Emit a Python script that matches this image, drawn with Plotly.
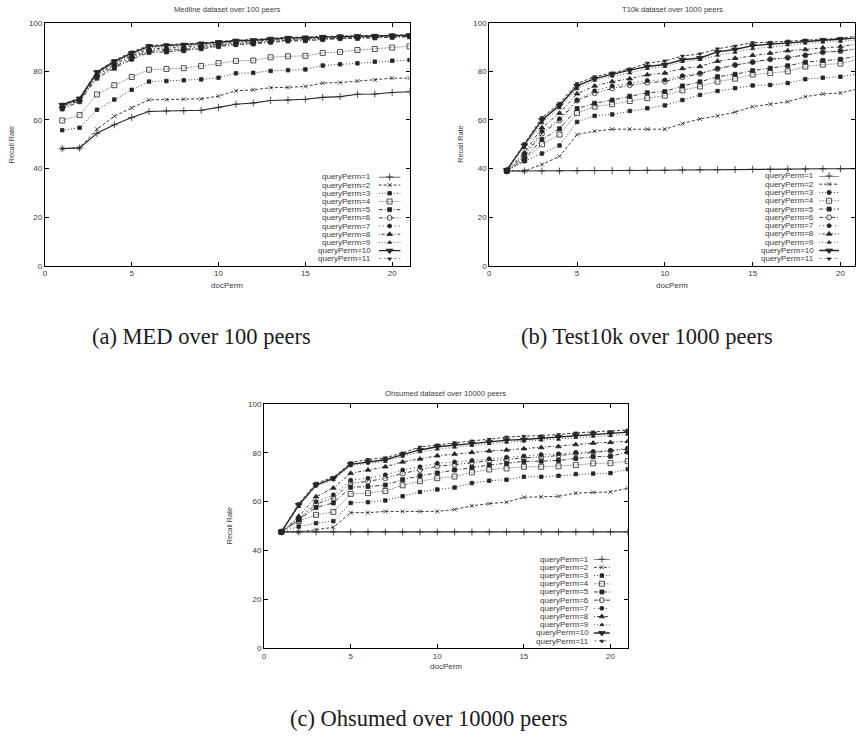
import plotly.graph_objects as go

# ---------------------------------------------------------------- data
DOC_PERM = list(range(1, 22))
QUERY_LABELS = [f"queryPerm={k}" for k in range(1, 12)]

PANEL_TITLES = ["Medline dataset over 100 peers",
                "T10k dataset over 1000 peers",
                "Ohsumed dataset over 10000 peers"]
CAPTIONS = ["(a) MED over 100 peers",
            "(b) Test10k over 1000 peers",
            "(c) Ohsumed over 10000 peers"]
X_TICKS = [0, 5, 10, 15, 20]
Y_TICKS = [0, 20, 40, 60, 80, 100]

# recall rate per queryPerm (rows) and docPerm = 1..21 (columns)
MED_RECALL = [
    [48.2, 48.5, 54.5, 58.0, 61.0, 63.5, 63.7, 63.8, 64.0, 65.2, 66.5, 67.0, 68.0, 68.2, 68.5, 69.3, 69.6, 70.6, 70.7, 71.3, 71.6],
    [48.2, 48.5, 56.2, 61.5, 65.0, 68.3, 68.4, 68.5, 68.7, 69.8, 72.0, 72.4, 73.3, 73.4, 73.8, 75.2, 75.4, 76.0, 76.5, 77.2, 77.2],
    [55.8, 56.8, 64.2, 68.4, 72.4, 75.8, 76.0, 76.3, 76.7, 77.4, 79.2, 79.4, 80.2, 80.5, 80.8, 82.4, 82.9, 83.3, 84.0, 84.4, 84.7],
    [59.8, 62.0, 70.5, 74.3, 77.7, 80.7, 81.0, 81.3, 82.2, 83.4, 84.3, 84.5, 85.8, 86.2, 86.4, 87.6, 88.0, 88.8, 89.2, 89.8, 90.3],
    [64.5, 67.5, 77.2, 81.3, 85.0, 87.8, 88.0, 88.5, 89.3, 90.2, 91.0, 91.3, 92.0, 92.5, 92.6, 93.1, 93.5, 93.6, 93.8, 94.0, 94.2],
    [65.0, 68.0, 78.0, 82.0, 85.7, 88.3, 88.6, 89.0, 89.8, 90.6, 91.4, 91.7, 92.3, 92.8, 93.0, 93.4, 93.8, 93.9, 94.1, 94.3, 94.5],
    [65.3, 68.2, 78.3, 82.6, 86.0, 88.8, 89.0, 89.4, 90.2, 91.0, 91.7, 92.0, 92.6, 93.1, 93.3, 93.6, 94.0, 94.1, 94.3, 94.5, 94.6],
    [65.7, 68.4, 78.8, 83.0, 86.5, 89.3, 89.5, 89.9, 90.6, 91.3, 92.0, 92.3, 92.9, 93.3, 93.5, 93.8, 94.1, 94.3, 94.4, 94.6, 94.7],
    [66.0, 68.6, 79.2, 83.5, 87.0, 89.8, 90.0, 90.4, 91.0, 91.6, 92.3, 92.6, 93.1, 93.5, 93.7, 94.0, 94.2, 94.4, 94.5, 94.7, 94.8],
    [66.2, 68.8, 79.6, 84.0, 87.5, 90.3, 90.6, 90.9, 91.4, 92.0, 92.6, 92.8, 93.4, 93.8, 93.9, 94.2, 94.4, 94.5, 94.6, 94.8, 94.9],
    [66.5, 69.0, 80.0, 84.5, 88.0, 90.7, 91.0, 91.2, 91.7, 92.3, 92.8, 93.0, 93.6, 94.0, 94.1, 94.4, 94.5, 94.6, 94.7, 94.9, 95.0],
]

T10K_RECALL = [
    [39.0, 39.0, 39.0, 39.0, 39.1, 39.2, 39.2, 39.3, 39.3, 39.3, 39.4, 39.5, 39.5, 39.6, 39.7, 39.7, 39.8, 39.8, 39.9, 39.9, 40.0],
    [39.0, 39.0, 41.7, 45.0, 54.0, 55.4, 56.2, 56.2, 56.2, 56.2, 58.5, 60.4, 61.7, 63.2, 65.5, 66.5, 67.5, 69.6, 70.7, 71.1, 72.8],
    [39.0, 43.0, 46.2, 49.5, 59.2, 61.7, 62.3, 63.7, 64.8, 66.0, 68.2, 70.3, 71.9, 73.1, 74.2, 74.4, 75.2, 76.8, 77.4, 77.8, 79.0],
    [39.0, 43.5, 50.0, 54.0, 62.8, 65.5, 66.5, 67.8, 69.0, 70.0, 72.2, 73.8, 75.8, 77.0, 78.7, 79.3, 80.0, 82.0, 82.8, 83.2, 84.8],
    [39.0, 44.0, 52.0, 56.4, 64.7, 66.9, 68.2, 69.8, 71.2, 71.7, 74.0, 75.7, 77.8, 78.8, 80.3, 81.3, 82.3, 83.8, 84.5, 85.0, 86.4],
    [39.0, 45.2, 54.4, 59.8, 68.0, 71.0, 73.0, 74.3, 75.4, 75.8, 77.6, 79.0, 81.0, 82.6, 83.8, 85.0, 85.7, 86.6, 87.8, 88.3, 89.3],
    [39.0, 45.8, 55.3, 60.5, 68.2, 72.0, 74.0, 75.2, 76.2, 76.5, 78.2, 79.3, 81.2, 82.6, 83.8, 84.9, 85.5, 86.6, 88.0, 88.5, 89.5],
    [39.5, 46.5, 56.8, 62.8, 70.8, 74.0, 75.8, 77.0, 78.6, 79.3, 81.2, 82.0, 84.2, 85.4, 86.6, 87.5, 88.5, 89.0, 89.7, 90.2, 91.3],
    [39.5, 48.5, 58.8, 65.0, 72.8, 76.3, 78.0, 79.3, 81.2, 82.0, 84.0, 84.8, 86.6, 87.8, 89.3, 90.0, 90.9, 91.6, 92.0, 92.3, 93.0],
    [39.5, 49.5, 60.0, 66.0, 74.0, 77.0, 78.8, 80.5, 82.0, 82.8, 84.8, 85.5, 88.0, 89.0, 90.6, 91.2, 91.8, 92.4, 92.8, 93.2, 93.8],
    [39.5, 50.3, 61.0, 66.9, 75.0, 77.8, 79.4, 81.0, 83.4, 84.3, 86.3, 87.2, 89.3, 90.4, 91.8, 92.0, 92.5, 92.9, 93.2, 93.6, 94.6],
]

OHSUMED_RECALL = [
    [47.6, 47.6, 47.6, 47.6, 47.6, 47.6, 47.6, 47.6, 47.6, 47.6, 47.6, 47.6, 47.6, 47.6, 47.6, 47.6, 47.6, 47.6, 47.6, 47.6, 47.6],
    [47.6, 47.6, 48.5, 49.5, 55.5, 55.5, 56.0, 56.0, 56.0, 56.0, 56.8, 58.3, 59.2, 59.8, 61.8, 62.0, 62.2, 63.5, 63.8, 64.0, 65.5],
    [47.6, 49.8, 51.2, 52.0, 59.5, 59.8, 60.5, 62.2, 64.0, 65.0, 65.8, 67.6, 68.6, 69.0, 70.2, 70.2, 70.6, 71.3, 71.5, 71.7, 73.3],
    [47.6, 52.0, 54.6, 55.8, 63.2, 63.5, 64.4, 66.7, 68.4, 69.6, 70.3, 72.0, 73.2, 73.6, 74.3, 74.3, 74.5, 75.0, 75.7, 75.8, 76.6],
    [47.6, 52.5, 57.6, 59.5, 65.9, 66.2, 66.8, 69.0, 70.6, 71.8, 73.0, 74.0, 75.0, 75.6, 76.5, 76.6, 76.9, 77.7, 78.4, 78.6, 80.3],
    [47.6, 52.7, 59.0, 61.5, 67.6, 68.3, 69.6, 71.6, 73.0, 74.5, 75.2, 76.0, 76.8, 77.2, 78.0, 78.3, 79.0, 79.8, 80.2, 80.8, 81.6],
    [47.6, 53.0, 60.0, 62.8, 68.8, 69.6, 71.0, 73.0, 74.3, 75.7, 76.3, 76.9, 77.6, 78.2, 78.7, 79.3, 79.6, 80.2, 80.6, 81.0, 82.0],
    [47.6, 54.0, 62.0, 65.6, 71.6, 73.0, 74.3, 76.3, 77.5, 78.8, 79.5, 80.2, 80.8, 81.2, 81.7, 82.2, 82.6, 83.4, 84.0, 84.3, 84.7],
    [47.6, 58.0, 66.5, 69.0, 74.8, 75.8, 76.5, 78.6, 80.4, 81.5, 82.3, 83.0, 83.8, 84.3, 84.8, 85.2, 85.5, 86.3, 86.8, 87.0, 87.6],
    [47.6, 58.6, 66.8, 69.5, 75.3, 76.3, 77.2, 79.3, 81.2, 82.5, 83.3, 83.8, 84.5, 85.2, 85.5, 86.0, 86.5, 87.2, 87.8, 88.0, 88.5],
    [47.6, 59.2, 67.6, 70.0, 76.0, 77.3, 78.0, 80.0, 82.4, 83.3, 84.2, 84.9, 85.6, 86.5, 86.8, 87.0, 87.5, 88.2, 88.6, 88.7, 89.4],
]

# ---------------------------------------------------------------- styles
W, H = 856, 740
INK = "#262626"
TEXT = "#3a3a3a"
SANS = "Liberation Sans, Arial, sans-serif"
SERIF = "Liberation Serif, Times New Roman, serif"

# gnuplot-like monochrome line types: (dash, width, color, symbol, size)
LINE_STYLES = [
    ("solid",                      1.1, INK,       "cross-thin-open",   5),
    ("3px,2px",                    0.9, INK,       "x-thin-open",       4),
    ("1px,2px",                    0.9, INK,       "square",            3.5),
    ("2px,1px",                    0.9, "#909090", "square-open",       5),
    ("4px,2px,1px,2px",            0.9, INK,       "square",            4),
    ("4px,2px,1px,2px,1px,2px",    0.9, INK,       "circle-open",       5),
    ("1px,3px",                    0.9, INK,       "circle",            4),
    ("1px,2px,3px,2px",            0.9, INK,       "triangle-up",       5),
    ("1px,2px",                    0.9, "#4a4a4a", "triangle-up",       3.5),
    ("solid",                      1.4, INK,       "triangle-down",     6),
    ("3px,2px",                    0.9, INK,       "triangle-down",     3.5),
]


def px_x(p):
    return p / W


def px_y(p):
    return 1 - p / H


# panel geometry in pixels: plot box (left, right, top, bottom), x range,
# key text right edge, key sample span, first/last key row,
# y-title x, x-title y, panel-title y, caption centre
PANELS = [
    dict(data=MED_RECALL, box=(43, 409, 19, 265), xr=[0, 21],
         leg_text=372, leg_line=(378, 400), leg_rows=(175, 258),
         ytitle_x=9, xtitle_y=285, title_y=6, cap=(200, 337)),
    dict(data=T10K_RECALL, box=(489, 856, 19, 265), xr=[0, 20.83],
         leg_text=817, leg_line=(820, 840), leg_rows=(174, 258),
         ytitle_x=460, xtitle_y=285, title_y=6, cap=(647, 337)),
    dict(data=OHSUMED_RECALL, box=(263, 628, 405, 652), xr=[0, 21],
         leg_text=591, leg_line=(594, 610), leg_rows=(562, 645),
         ytitle_x=228, xtitle_y=671, title_y=394, cap=(428, 723)),
]

fig = go.Figure()
layout = dict(
    width=W, height=H, margin=dict(l=0, r=0, t=0, b=0),
    paper_bgcolor="white", plot_bgcolor="white", showlegend=False,
    font=dict(family=SANS, size=8, color=TEXT),
)
annotations = []

for i, panel in enumerate(PANELS):
    n = i + 1
    sfx = "" if n == 1 else str(n)
    left, right, top, bottom = panel["box"]

    axis_common = dict(showline=True, linecolor="black", linewidth=1,
                       mirror="ticks", ticks="inside", ticklen=4,
                       tickcolor="black", showgrid=False, zeroline=False,
                       tickfont=dict(family=SANS, size=8, color=TEXT))
    layout["xaxis" + sfx] = dict(axis_common, domain=[px_x(left), px_x(right)],
                                 range=panel["xr"], tickvals=X_TICKS,
                                 anchor="y" + sfx)
    layout["yaxis" + sfx] = dict(axis_common, domain=[px_y(bottom), px_y(top)],
                                 range=[0, 100], tickvals=Y_TICKS,
                                 anchor="x" + sfx)

    for k, series in enumerate(panel["data"]):
        dash, width, color, symbol, size = LINE_STYLES[k]
        fig.add_trace(go.Scatter(
            x=DOC_PERM, y=series, mode="lines+markers",
            name=QUERY_LABELS[k], xaxis="x" + sfx, yaxis="y" + sfx,
            line=dict(color=color, width=width, dash=dash),
            marker=dict(symbol=symbol, size=size, color=INK,
                        line=dict(color=INK, width=0.8)),
            cliponaxis=True,
        ))

    # key box (gnuplot style: label on the left, sample on the right)
    ln = 3 + n
    lsfx = str(ln)
    l0, l1 = panel["leg_line"]
    r0, r1 = panel["leg_rows"]
    layout["xaxis" + lsfx] = dict(domain=[px_x(l0), px_x(l1)], range=[0, 1],
                                  visible=False, anchor="y" + lsfx,
                                  fixedrange=True)
    layout["yaxis" + lsfx] = dict(domain=[px_y(r1), px_y(r0)],
                                  range=[len(QUERY_LABELS) - 1, 0],
                                  visible=False, anchor="x" + lsfx,
                                  fixedrange=True)
    for k, label in enumerate(QUERY_LABELS):
        dash, width, color, symbol, size = LINE_STYLES[k]
        fig.add_trace(go.Scatter(
            x=[0, 0.5, 1], y=[k, k, k], mode="lines+markers",
            xaxis="x" + lsfx, yaxis="y" + lsfx, hoverinfo="skip",
            line=dict(color=color, width=width, dash=dash),
            marker=dict(symbol=symbol, size=size, color=INK,
                        opacity=[0, 1, 0], line=dict(color=INK, width=0.8)),
            cliponaxis=False,
        ))
        annotations.append(dict(
            text=label, xref="paper", yref="y" + lsfx,
            x=px_x(panel["leg_text"]), y=k, xanchor="right", yanchor="middle",
            showarrow=False, font=dict(family=SANS, size=8, color=TEXT)))

    cx = px_x((left + right) / 2)
    cy = px_y((top + bottom) / 2)
    annotations += [
        dict(text=PANEL_TITLES[i], xref="paper", yref="paper",
             x=cx, y=px_y(panel["title_y"]), xanchor="center",
             yanchor="middle", showarrow=False,
             font=dict(family=SANS, size=7.6, color=TEXT)),
        dict(text="Recall Rate", xref="paper", yref="paper",
             x=px_x(panel["ytitle_x"]), y=cy, textangle=-90,
             xanchor="center", yanchor="middle", showarrow=False,
             font=dict(family=SANS, size=7.2, color=TEXT)),
        dict(text="docPerm", xref="paper", yref="paper",
             x=cx, y=px_y(panel["xtitle_y"]), xanchor="center",
             yanchor="middle", showarrow=False,
             font=dict(family=SANS, size=8, color=TEXT)),
        dict(text=CAPTIONS[i], xref="paper", yref="paper",
             x=px_x(panel["cap"][0]), y=px_y(panel["cap"][1]),
             xanchor="center", yanchor="middle", showarrow=False,
             font=dict(family=SERIF, size=22.5, color="#1a1a1a")),
    ]

layout["annotations"] = annotations
fig.update_layout(**layout)
fig.write_html("out.html")
